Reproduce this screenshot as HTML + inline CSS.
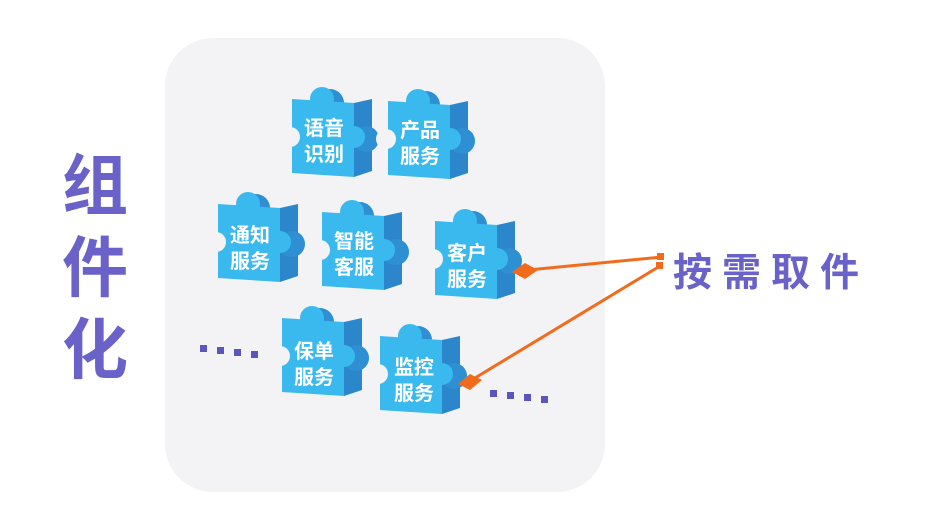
<!DOCTYPE html>
<html><head><meta charset="utf-8"><style>
body{margin:0;width:943px;height:531px;background:#fff;position:relative;overflow:hidden;font-family:"Liberation Sans","Noto Sans CJK SC",sans-serif}
.panel{position:absolute;left:165px;top:38px;width:440px;height:454px;background:#f3f3f5;border-radius:48px}
.big{position:absolute;left:62px;top:145px;width:80px;font-size:66px;line-height:82px;font-weight:bold;color:#6a62c8}
.r{position:absolute;left:673px;top:242px;font-size:39px;font-weight:bold;color:#6a62c8;letter-spacing:10px}
svg{position:absolute;left:0;top:0}
</style></head><body>
<div class="panel"></div>
<div class="big">组<br>件<br>化</div>
<div class="r">按需取件</div>
<svg width="943" height="531">
<defs>
<g id="p">
<circle cx="38" cy="8" r="14" fill="#2f8fd3"/>
<polygon points="62,8 80,4 80,76 62,82" fill="#2b86cc"/>
<circle cx="74" cy="44" r="13" fill="#2f8fd3"/>
<polygon points="0,4 62,8 62,82 0,78" fill="#3ab9ef"/>
<circle cx="30" cy="4" r="12" fill="#3ab9ef"/>
<circle cx="62" cy="42" r="11" fill="#3ab9ef"/>
<circle cx="-2" cy="42" r="10" fill="#f3f3f5"/>
</g>
</defs>
<g font-family="Liberation Sans,Noto Sans CJK SC,sans-serif" font-weight="bold" font-size="20" fill="#fff" text-anchor="middle">
<use href="#p" x="292" y="95"/><text x="324" y="135">语音</text><text x="324" y="161">识别</text>
<use href="#p" x="388" y="97"/><text x="420" y="137">产品</text><text x="420" y="163">服务</text>
<use href="#p" x="218" y="200"/><text x="250" y="242">通知</text><text x="250" y="268">服务</text>
<use href="#p" x="322" y="208"/><text x="354" y="248">智能</text><text x="354" y="274">客服</text>
<use href="#p" x="435" y="217"/><text x="467" y="260">客户</text><text x="467" y="286">服务</text>
<use href="#p" x="282" y="314"/><text x="314" y="358">保单</text><text x="314" y="384">服务</text>
<use href="#p" x="380" y="332"/><text x="414" y="374">监控</text><text x="414" y="400">服务</text>
</g>
<g stroke="#f26b1d" stroke-width="3" fill="none">
<line x1="528" y1="270" x2="662" y2="257"/>
<line x1="470" y1="381" x2="660" y2="266"/>
</g>
<g fill="#f26b1d">
<polygon points="512,272 525,263 538,270 525,279"/>
<polygon points="458,384 470,374 482,380 470,390"/>
<rect x="657" y="253" width="7" height="7"/><rect x="656" y="262" width="7" height="7"/>
</g>
<g fill="#5a56bd">
<rect x="200" y="345" width="7" height="7"/><rect x="217" y="347" width="7" height="7"/><rect x="234" y="349" width="7" height="7"/><rect x="251" y="351" width="7" height="7"/>
<rect x="490" y="390" width="7" height="7"/><rect x="507" y="392" width="7" height="7"/><rect x="524" y="394" width="7" height="7"/><rect x="541" y="396" width="7" height="7"/>
</g>
</svg>
</body></html>
